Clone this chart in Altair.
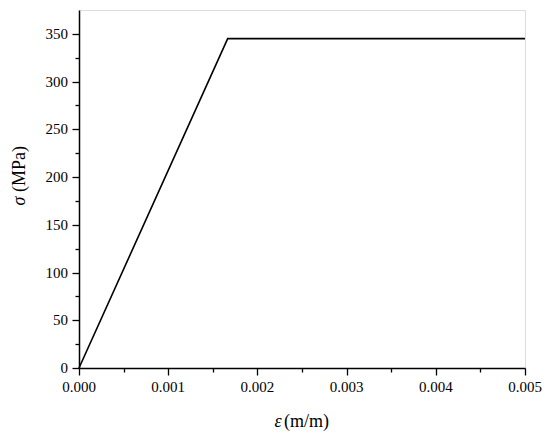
import altair as alt
import pandas as pd

strain = [0.0, 0.001667, 0.005]
stress = [0.0, 345.0, 345.0]

x_major = [0.0, 0.001, 0.002, 0.003, 0.004, 0.005]
x_minor = [0.0005, 0.0015, 0.0025, 0.0035, 0.0045]
y_major = [0, 50, 100, 150, 200, 250, 300, 350]
y_minor = [25, 75, 125, 175, 225, 275, 325]

df = pd.DataFrame({"strain": strain, "stress": stress})
FONT = "Liberation Serif"

xs = alt.Scale(domain=[0, 0.005], nice=False, zero=False)
ys = alt.Scale(domain=[0, 375], nice=False, zero=False)

major = alt.Chart(df).mark_line(color="black", strokeWidth=1.6, clip=False).encode(
    x=alt.X("strain:Q", scale=xs, axis=alt.Axis(
        orient="bottom", values=x_major, labels=False, title=None, tickSize=7,
        domainColor="black", domainWidth=1.5, tickColor="black", tickWidth=1.3, grid=False)),
    y=alt.Y("stress:Q", scale=ys, axis=alt.Axis(
        orient="left", values=y_major, labels=False, title=None, tickSize=7,
        domainColor="black", domainWidth=1.5, tickColor="black", tickWidth=1.3, grid=False)),
)

minor = alt.Chart(df).mark_line(opacity=0).encode(
    x=alt.X("strain:Q", scale=xs, axis=alt.Axis(
        orient="bottom", values=x_minor, labels=False, title=None, tickSize=4,
        domain=False, tickColor="black", tickWidth=1.3, grid=False)),
    y=alt.Y("stress:Q", scale=ys, axis=alt.Axis(
        orient="left", values=y_minor, labels=False, title=None, tickSize=4,
        domain=False, tickColor="black", tickWidth=1.3, grid=False)),
)

xl = alt.Chart(pd.DataFrame({"v": x_major})).mark_text(
    font=FONT, fontSize=15, align="center", baseline="middle", color="black"
).encode(x=alt.X("v:Q", scale=xs, axis=None), y=alt.value(377),
         text=alt.Text("v:Q", format=".3f"))

yl = alt.Chart(pd.DataFrame({"v": y_major})).mark_text(
    font=FONT, fontSize=15, align="right", baseline="middle", color="black"
).encode(y=alt.Y("v:Q", scale=ys, axis=None), x=alt.value(-11),
         text=alt.Text("v:Q", format="d"))

tdf = pd.DataFrame({"a": [0]})
xt_sym = alt.Chart(tdf).mark_text(text="ε", font=FONT, fontSize=18, fontStyle="italic",
                                  align="center", baseline="middle", color="black").encode(
    x=alt.value(199), y=alt.value(412))
xt_unit = alt.Chart(tdf).mark_text(text="(m/m)", font=FONT, fontSize=18,
                                   align="left", baseline="middle", color="black").encode(
    x=alt.value(205), y=alt.value(412))
yt_sym = alt.Chart(tdf).mark_text(text="σ", font=FONT, fontSize=18, fontStyle="italic", angle=270,
                                  align="center", baseline="middle", color="black").encode(
    x=alt.value(-59), y=alt.value(191))
yt_unit = alt.Chart(tdf).mark_text(text="(MPa)", font=FONT, fontSize=18, angle=270,
                                   align="left", baseline="middle", color="black").encode(
    x=alt.value(-59), y=alt.value(182))

chart = alt.layer(major, minor, xl, yl, xt_sym, xt_unit, yt_sym, yt_unit).resolve_axis(
    x="independent", y="independent"
).properties(
    width=446, height=358,
    autosize=alt.AutoSizeParams(type="none"),
    padding={"left": 71, "top": 2, "right": 17, "bottom": 64},
).configure_view(stroke=None).configure(background="white", font=FONT)

chart.save("out.html", embed_options={"renderer": "svg", "actions": False})
